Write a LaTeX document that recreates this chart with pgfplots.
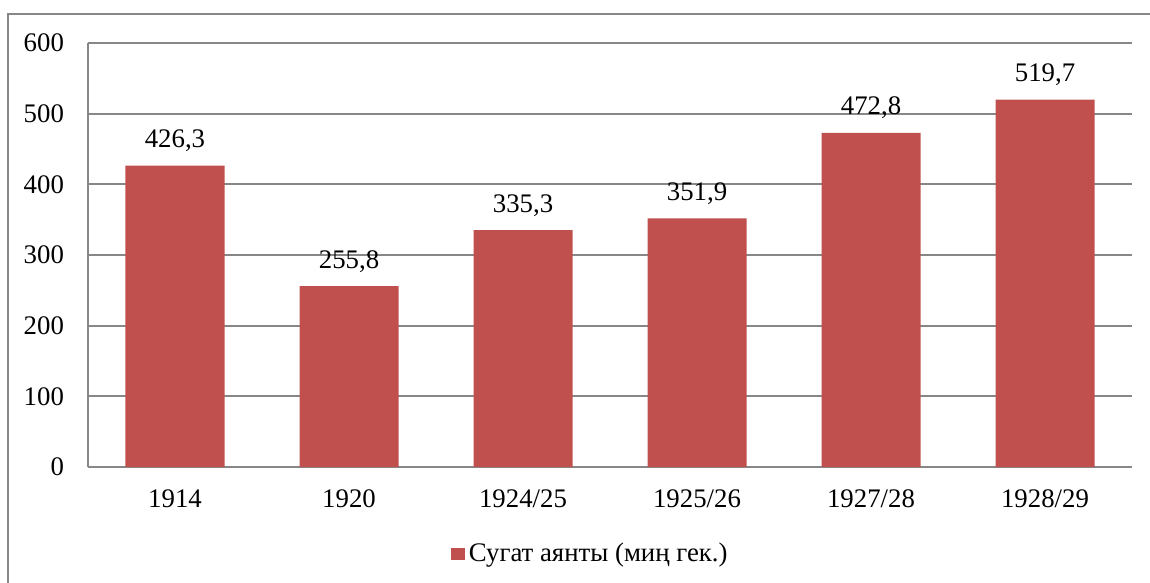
\documentclass[border=0pt]{standalone}
\usepackage{pgfplots}
\pgfplotsset{compat=1.18}
\usepackage{fontspec}
\setmainfont{Liberation Serif}
\definecolor{barred}{HTML}{C0504D}
\definecolor{linegray}{HTML}{878787}
\newcommand{\fs}{\fontsize{13.4}{16}\selectfont}
\begin{document}
\begin{tikzpicture}
\useasboundingbox (-44pt,-58pt) rectangle (531pt,233.5pt);
\draw[linegray, line width=0.9pt] (-40pt,-80pt) -- (-40pt,226.5pt) -- (560pt,226.5pt);
\begin{axis}[
  at={(0,0)}, anchor=south west,
  scale only axis, width=522pt, height=212pt,
  ybar, bar width=49.5pt,
  xmin=-0.5, xmax=5.5, ymin=0, ymax=600,
  xtick=data,
  xticklabels={1914,1920,1924/25,1925/26,1927/28,1928/29},
  ytick={0,100,...,600},
  major tick length=0pt,
  ymajorgrids, grid style={linegray, line width=0.9pt},
  axis x line*=bottom, axis y line*=left,
  axis line style={linegray, line width=0.9pt, -},
  tick label style={font=\fs},
  /pgf/number format/assume math mode=true,
  yticklabel style={xshift=-8.5pt},
  xticklabel style={yshift=-8pt},
  nodes near coords,
  nodes near coords style={font=\fs, anchor=base, yshift=9pt,
    /pgf/number format/.cd, fixed, fixed zerofill, precision=1, use comma, assume math mode=true},
  legend style={draw=none, font=\fs, at={(0.482,-0.205)}, anchor=center,
    legend cell align=left},
  legend image code/.code={\fill[barred] (0pt,-3.2pt) rectangle (7pt,3.2pt);},
]
\addplot[draw=none, fill=barred] coordinates {
  (0,426.3) (1,255.8) (2,335.3) (3,351.9) (4,472.8) (5,519.7)
};
\addlegendentry{Сугат аянты (миң гек.)}
\end{axis}
\end{tikzpicture}
\end{document}
